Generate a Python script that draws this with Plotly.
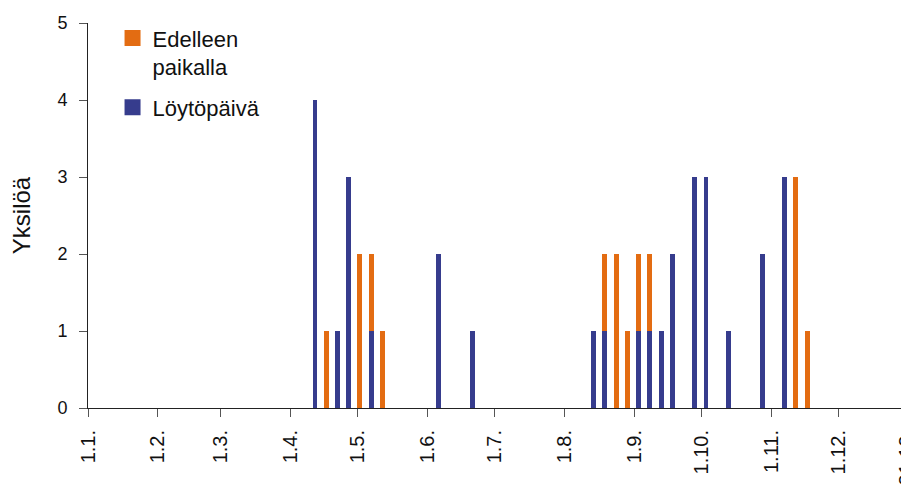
import plotly.graph_objects as go

# Pentad dates (day.month.) with counts
dates = ["2011-04-12", "2011-04-17", "2011-04-22", "2011-04-27", "2011-05-02",
         "2011-05-07", "2011-05-12", "2011-06-06", "2011-06-21", "2011-08-14",
         "2011-08-19", "2011-08-24", "2011-08-29", "2011-09-03", "2011-09-08",
         "2011-09-13", "2011-09-18", "2011-09-28", "2011-10-03", "2011-10-13",
         "2011-10-28", "2011-11-07", "2011-11-12", "2011-11-17"]
loytopaiva = [4, 0, 1, 3, 0, 1, 0, 2, 1, 1,
              1, 0, 0, 1, 1, 1, 2, 3, 3, 1,
              2, 3, 0, 0]
edelleen_paikalla = [0, 1, 0, 0, 2, 1, 1, 0, 0, 0,
                     1, 2, 1, 1, 1, 0, 0, 0, 0, 0,
                     0, 0, 3, 1]

tick_dates = ["2011-01-01", "2011-02-01", "2011-03-01", "2011-04-01", "2011-05-01",
              "2011-06-01", "2011-07-01", "2011-08-01", "2011-09-01", "2011-10-01",
              "2011-11-01", "2011-12-01", "2011-12-31"]
tick_labels = ["1.1.", "1.2.", "1.3.", "1.4.", "1.5.", "1.6.", "1.7.", "1.8.",
               "1.9.", "1.10.", "1.11.", "1.12.", "31.12."]

BLUE = "#363C8D"
ORANGE = "#E36C12"
bar_w = 2.2 * 86400000

fig = go.Figure()
fig.add_trace(go.Bar(x=dates, y=loytopaiva, name="Löytöpäivä", showlegend=False,
                     marker=dict(color=BLUE, line=dict(width=0)), width=bar_w))
fig.add_trace(go.Bar(x=dates, y=edelleen_paikalla, name="Edelleen paikalla", showlegend=False,
                     marker=dict(color=ORANGE, line=dict(width=0)), width=bar_w))
# legend entries (square swatches)
fig.add_trace(go.Scatter(x=[None], y=[None], mode="markers", name="Edelleen<br>paikalla",
                         legendgroup="e",
                         marker=dict(symbol="square", size=16, color=ORANGE)))
fig.add_trace(go.Scatter(x=[None], y=[None], mode="markers", name="Löytöpäivä",
                         legendgroup="l",
                         marker=dict(symbol="square", size=16, color=BLUE)))

font = "Liberation Sans, Arial, sans-serif"
fig.update_layout(
    width=901, height=481,
    margin=dict(l=80, r=3, t=15, b=81),
    barmode="stack",
    plot_bgcolor="white", paper_bgcolor="white",
    font=dict(family=font, size=18, color="#111111"),
    showlegend=True,
    legend=dict(x=0.03, y=1.015, xanchor="left", yanchor="top",
                traceorder="grouped", font=dict(size=22), valign="top",
                itemsizing="trace",
                bgcolor="rgba(0,0,0,0)", tracegroupgap=9),
    xaxis=dict(type="date", range=["2011-01-01", "2011-12-31"],
               tickvals=tick_dates, ticktext=tick_labels, tickangle=-90,
               ticks="outside", ticklen=8, tickcolor="#555555",
               showline=True, linecolor="#222222", linewidth=1,
               showgrid=False, zeroline=False, automargin=False,
               ticklabeloverflow="allow", ticklabelstandoff=5,
               tickfont=dict(size=20)),
    yaxis=dict(range=[0, 5], tickvals=[0, 1, 2, 3, 4, 5],
               ticks="outside", ticklen=8, tickcolor="#555555",
               showline=True, linecolor="#222222", linewidth=1,
               showgrid=False, zeroline=False, automargin=False,
               ticklabelstandoff=8,
               title=dict(text="Yksilöä", font=dict(size=24), standoff=31),
               tickfont=dict(size=18)),
)

fig.write_html("out.html")
